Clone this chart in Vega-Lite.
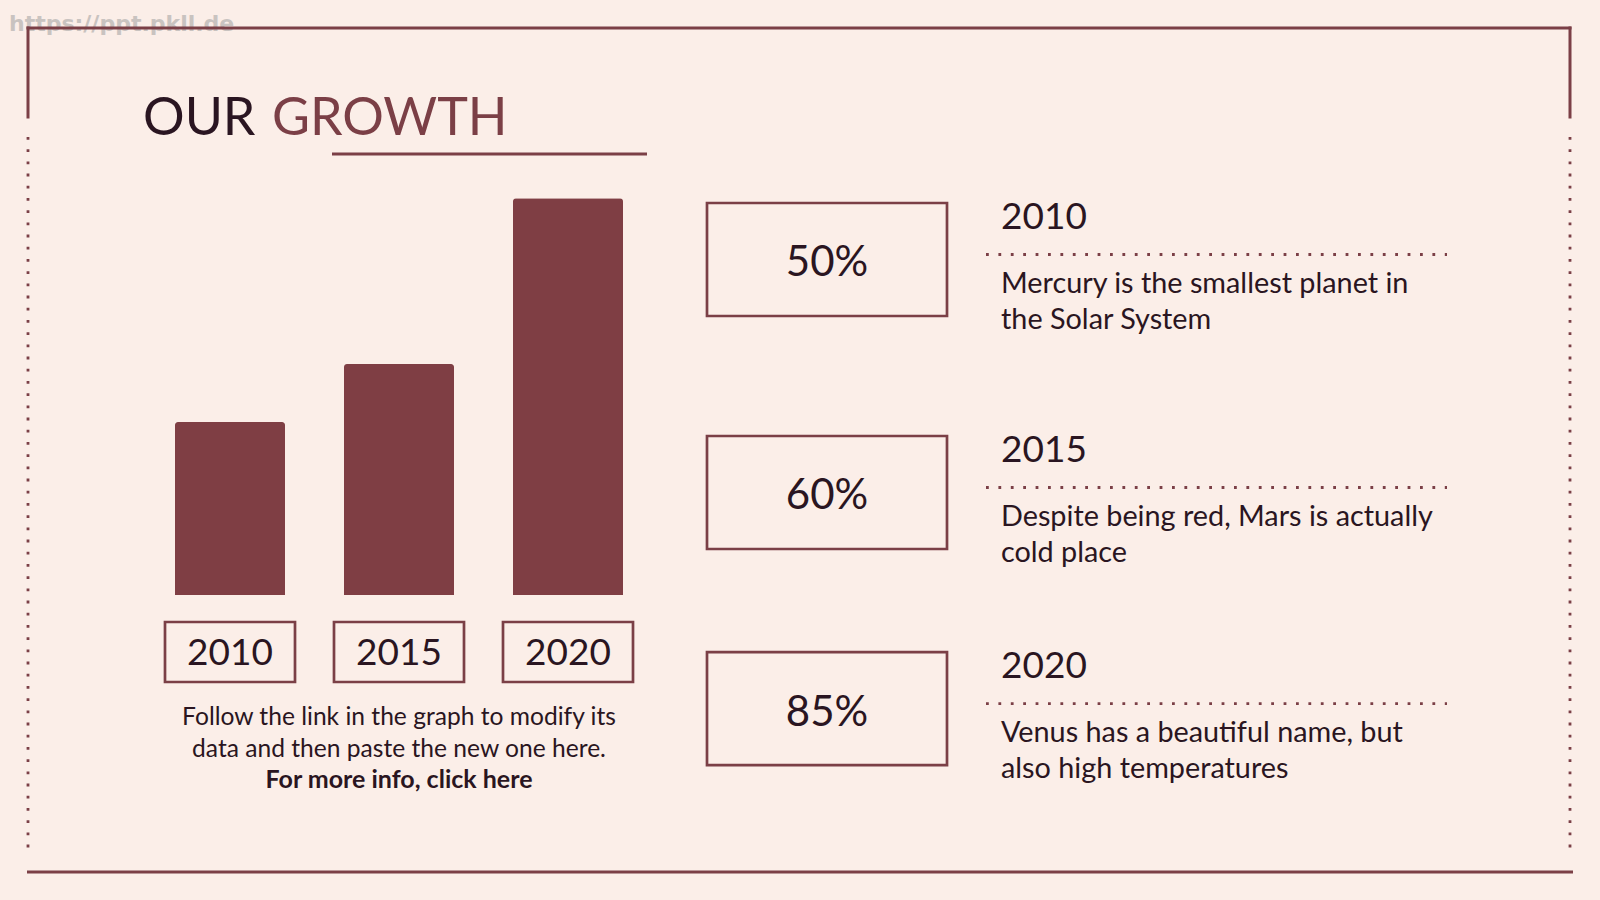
{
  "$schema": "https://vega.github.io/schema/vega-lite/v6.json",
  "width": 1600,
  "height": 900,
  "autosize": {"type": "fit", "contains": "padding"},
  "padding": 0,
  "background": "#fbeee8",
  "config": {"view": {"stroke": null}, "text": {"font": "Lato", "color": "#2a1521"}},
  "datasets": {
    "growth": [
      {"year": 2010, "growth": 43.6, "pct": "50%", "desc": "Mercury is the smallest planet in\nthe Solar System"},
      {"year": 2015, "growth": 58.2, "pct": "60%", "desc": "Despite being red, Mars is actually\ncold place"},
      {"year": 2020, "growth": 100, "pct": "85%", "desc": "Venus has a beautiful name, but\nalso high temperatures"}
    ],
    "blank": [{}]
  },
  "resolve": {"scale": {"x": "independent", "y": "independent"}},
  "layer": [
    {
      "data": {"name": "blank"},
      "layer": [
        {
          "mark": {"type": "text", "font": "DejaVu Sans", "fontWeight": "bold", "fontSize": 22, "color": "#c9c3c0", "align": "left", "baseline": "alphabetic"},
          "encoding": {
            "x": {"datum": 9, "type": "quantitative", "scale": {"domain": [0, 1600], "range": [0, 1600], "nice": false, "zero": false}, "axis": null},
            "y": {"datum": 31, "type": "quantitative", "scale": {"domain": [0, 900], "range": [0, 900], "nice": false, "zero": false}, "axis": null},
            "text": {"value": "https://ppt.pkll.de"}
          }
        },
        {
          "mark": {"type": "rule", "color": "#7b3f46", "strokeWidth": 3, "strokeCap": "square"},
          "encoding": {
            "x": {"datum": 28, "type": "quantitative", "axis": null},
            "x2": {"datum": 1570},
            "y": {"datum": 28, "type": "quantitative", "axis": null}
          }
        },
        {
          "mark": {"type": "rule", "color": "#7b3f46", "strokeWidth": 3, "strokeCap": "square"},
          "encoding": {
            "x": {"datum": 28, "type": "quantitative", "axis": null},
            "y": {"datum": 28, "type": "quantitative", "axis": null},
            "y2": {"datum": 117}
          }
        },
        {
          "mark": {"type": "rule", "color": "#7b3f46", "strokeWidth": 3, "strokeCap": "square"},
          "encoding": {
            "x": {"datum": 1570, "type": "quantitative", "axis": null},
            "y": {"datum": 28, "type": "quantitative", "axis": null},
            "y2": {"datum": 117}
          }
        },
        {
          "mark": {"type": "rule", "color": "#7b3f46", "strokeWidth": 2.8, "strokeDash": [2.8, 9.4]},
          "encoding": {
            "x": {"datum": 28, "type": "quantitative", "axis": null},
            "y": {"datum": 137, "type": "quantitative", "axis": null},
            "y2": {"datum": 849}
          }
        },
        {
          "mark": {"type": "rule", "color": "#7b3f46", "strokeWidth": 2.8, "strokeDash": [2.8, 9.4]},
          "encoding": {
            "x": {"datum": 1570, "type": "quantitative", "axis": null},
            "y": {"datum": 137, "type": "quantitative", "axis": null},
            "y2": {"datum": 849}
          }
        },
        {
          "mark": {"type": "rule", "color": "#7b3f46", "strokeWidth": 3},
          "encoding": {
            "x": {"datum": 27, "type": "quantitative", "axis": null},
            "x2": {"datum": 1573},
            "y": {"datum": 872, "type": "quantitative", "axis": null}
          }
        },
        {
          "mark": {"type": "rule", "color": "#7b3f46", "strokeWidth": 3},
          "encoding": {
            "x": {"datum": 332, "type": "quantitative", "axis": null},
            "x2": {"datum": 647},
            "y": {"datum": 154, "type": "quantitative", "axis": null}
          }
        },
        {
          "mark": {"type": "text", "fontSize": 52, "color": "#2a1521", "align": "left", "baseline": "alphabetic"},
          "encoding": {
            "x": {"datum": 143, "type": "quantitative", "axis": null},
            "y": {"datum": 135, "type": "quantitative", "axis": null},
            "text": {"value": "OUR"}
          }
        },
        {
          "mark": {"type": "text", "fontSize": 52, "color": "#7b3f46", "align": "left", "baseline": "alphabetic"},
          "encoding": {
            "x": {"datum": 272, "type": "quantitative", "axis": null},
            "y": {"datum": 135, "type": "quantitative", "axis": null},
            "text": {"value": "GROWTH"}
          }
        },
        {
          "mark": {"type": "text", "fontSize": 24.6, "color": "#2a1521", "align": "center", "baseline": "alphabetic", "lineBreak": "\n", "lineHeight": 31.7},
          "encoding": {
            "x": {"datum": 399, "type": "quantitative", "axis": null},
            "y": {"datum": 725, "type": "quantitative", "axis": null},
            "text": {"value": "Follow the link in the graph to modify its\ndata and then paste the new one here."}
          }
        },
        {
          "mark": {"type": "text", "fontSize": 25, "fontWeight": "bold", "color": "#2a1521", "align": "center", "baseline": "alphabetic"},
          "encoding": {
            "x": {"datum": 399, "type": "quantitative", "axis": null},
            "y": {"datum": 788, "type": "quantitative", "axis": null},
            "text": {"value": "For more info, click here"}
          }
        }
      ]
    },
    {
      "data": {"name": "growth"},
      "resolve": {"scale": {"y": "independent"}},
      "layer": [
        {
          "mark": {"type": "bar", "color": "#7f3e44", "cornerRadiusTopLeft": 3, "cornerRadiusTopRight": 3},
          "encoding": {
            "x": {"field": "year", "type": "ordinal", "axis": null, "scale": {"type": "band", "range": [175, 623], "paddingInner": 0.3491, "paddingOuter": 0}},
            "y": {"field": "growth", "type": "quantitative", "axis": null, "scale": {"domain": [0, 100], "range": [595, 198.3], "nice": false, "zero": true}}
          }
        },
        {
          "layer": [
            {
              "mark": {"type": "point", "shape": "M-1,-0.4615H1V0.4615H-1Z", "size": 16900, "filled": false, "color": "#7b3f46", "strokeWidth": 2.7, "opacity": 1},
              "encoding": {
                "x": {"field": "year", "type": "ordinal", "axis": null},
                "y": {"datum": 652, "type": "quantitative", "axis": null, "scale": {"domain": [0, 900], "range": [0, 900], "nice": false, "zero": false}}
              }
            },
            {
              "mark": {"type": "text", "fontSize": 37, "color": "#2a1521", "align": "center", "baseline": "alphabetic"},
              "encoding": {
                "x": {"field": "year", "type": "ordinal", "axis": null},
                "y": {"datum": 665, "type": "quantitative", "axis": null},
                "text": {"field": "year", "type": "nominal"}
              }
            }
          ]
        }
      ]
    },
    {
      "data": {"name": "growth"},
      "layer": [
        {
          "mark": {"type": "point", "shape": "M-1,-0.4708H1V0.4708H-1Z", "size": 57600, "filled": false, "color": "#7b3f46", "strokeWidth": 2.7, "opacity": 1},
          "encoding": {
            "x": {"datum": 827, "type": "quantitative", "axis": null, "scale": {"domain": [0, 1600], "range": [0, 1600], "nice": false, "zero": false}},
            "y": {"field": "year", "type": "quantitative", "axis": null, "scale": {"domain": [2010, 2015, 2020], "range": [259.5, 492.5, 708.7], "nice": false, "zero": false}}
          }
        },
        {
          "mark": {"type": "text", "fontSize": 42, "color": "#2a1521", "align": "center", "baseline": "alphabetic", "dy": 16.8},
          "encoding": {
            "x": {"datum": 827, "type": "quantitative", "axis": null},
            "y": {"field": "year", "type": "quantitative", "axis": null},
            "text": {"field": "pct", "type": "nominal"}
          }
        },
        {
          "mark": {"type": "text", "fontSize": 37, "color": "#2a1521", "align": "left", "baseline": "alphabetic", "dy": -31},
          "encoding": {
            "x": {"datum": 1001, "type": "quantitative", "axis": null},
            "y": {"field": "year", "type": "quantitative", "axis": null},
            "text": {"field": "year", "type": "nominal"}
          }
        },
        {
          "mark": {"type": "rule", "color": "#7b3f46", "strokeWidth": 2.8, "strokeDash": [2.8, 9.6], "yOffset": -5},
          "encoding": {
            "x": {"datum": 986, "type": "quantitative", "axis": null},
            "x2": {"datum": 1447},
            "y": {"field": "year", "type": "quantitative", "axis": null}
          }
        },
        {
          "mark": {"type": "text", "fontSize": 28.8, "color": "#2a1521", "align": "left", "baseline": "alphabetic", "dy": 33.5, "lineBreak": "\n", "lineHeight": 36},
          "encoding": {
            "x": {"datum": 1001, "type": "quantitative", "axis": null},
            "y": {"field": "year", "type": "quantitative", "axis": null},
            "text": {"field": "desc", "type": "nominal"}
          }
        }
      ]
    }
  ]
}
